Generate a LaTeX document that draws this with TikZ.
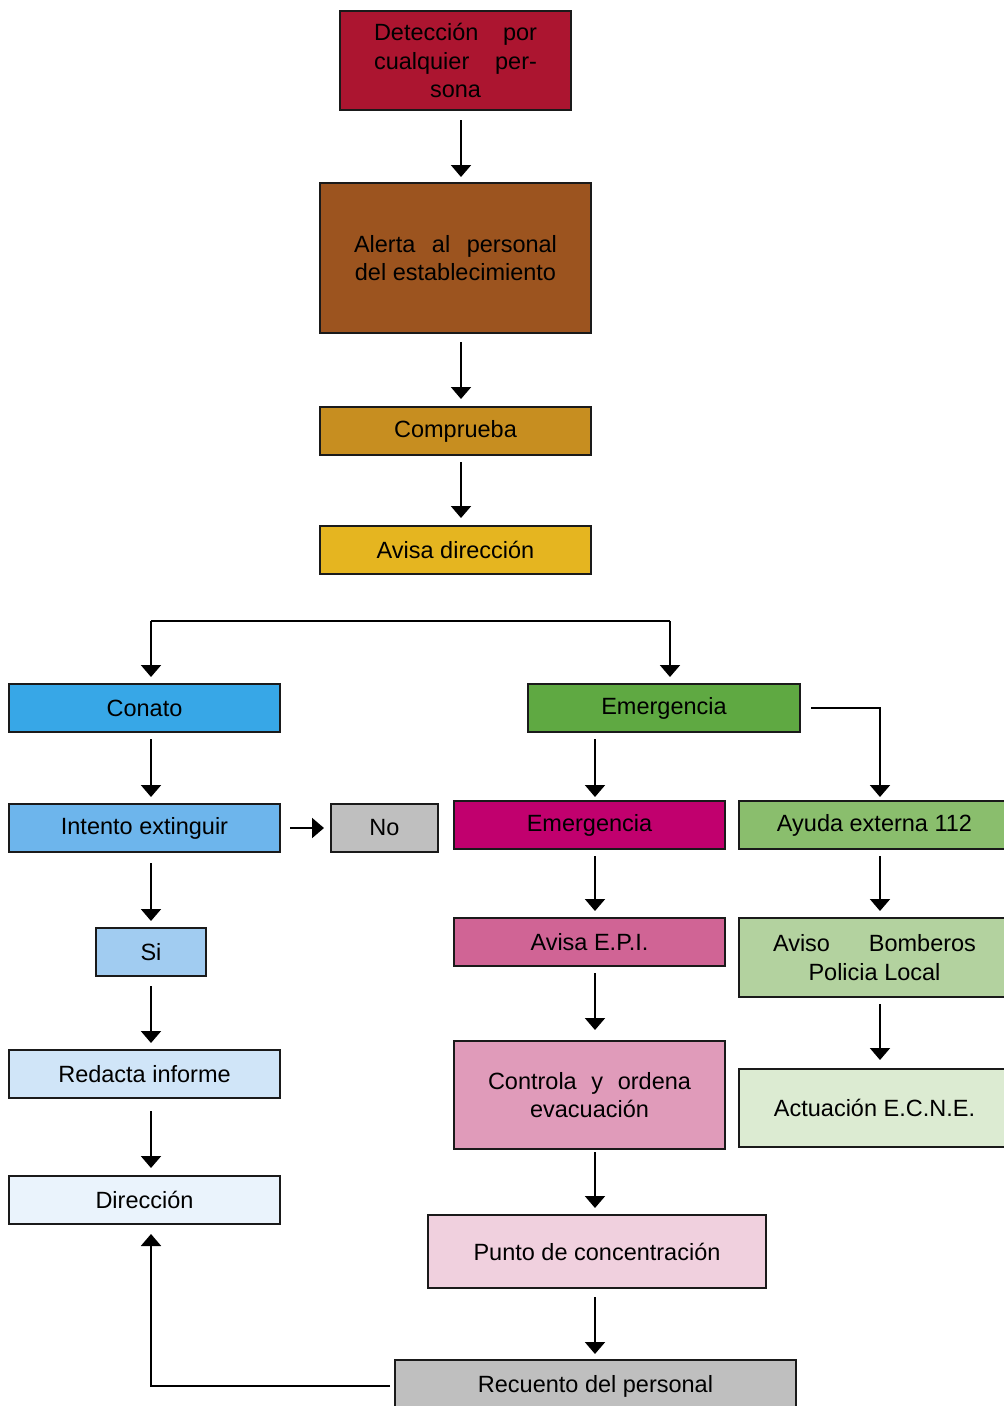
\documentclass[tikz,border=0pt]{standalone}
\usepackage{fontspec}
\setmainfont{Liberation Sans}
\usetikzlibrary{arrows.meta,calc}
\definecolor{cDet}{HTML}{AC1530}
\definecolor{cAle}{HTML}{9C541F}
\definecolor{cCom}{HTML}{C78E20}
\definecolor{cAvd}{HTML}{E5B520}
\definecolor{cCon}{HTML}{37A7E7}
\definecolor{cInt}{HTML}{6DB5EC}
\definecolor{cNo}{HTML}{BFBFBF}
\definecolor{cSi}{HTML}{A1CCF1}
\definecolor{cRed}{HTML}{D0E5F8}
\definecolor{cDir}{HTML}{EAF3FC}
\definecolor{cEmg}{HTML}{5FA942}
\definecolor{cEmm}{HTML}{C1006E}
\definecolor{cAyu}{HTML}{8ABE6D}
\definecolor{cEpi}{HTML}{D06495}
\definecolor{cBom}{HTML}{B3D29F}
\definecolor{cCtr}{HTML}{E09BBA}
\definecolor{cAct}{HTML}{DCEBD2}
\definecolor{cPun}{HTML}{F0D0DE}
\definecolor{cRec}{HTML}{BFBFBF}
\definecolor{cEdge}{HTML}{1A1A1A}
\begin{document}
\begin{tikzpicture}[x=1pt,y=-1pt,
  box/.style={draw=cEdge,line width=2.5pt,anchor=north west,inner sep=0pt,outer sep=0pt,align=center,
    font=\fontsize{23.5}{28.5}\selectfont},
  arr/.style={line width=2pt,-{Triangle[width=20pt,length=12pt]}},
  plain/.style={line width=2pt}]
\useasboundingbox (0,0) rectangle (1004,1406);
\clip (0,0) rectangle (1004,1406);
% top column
\node[box,fill=cDet,minimum width=231pt,minimum height=99pt] (det) at (340,11)
  {\makebox[163pt]{Detección\hfill por}\\\makebox[163pt]{cualquier\hfill per-}\\sona};
\node[box,fill=cAle,minimum width=271pt,minimum height=150pt] (ale) at (320,183)
  {\makebox[203pt]{Alerta\hfill al\hfill personal}\\del establecimiento};
\node[box,fill=cCom,minimum width=271pt,minimum height=48pt] (com) at (320,407) {Comprueba};
\node[box,fill=cAvd,minimum width=271pt,minimum height=48pt] (avd) at (320,526) {Avisa dirección};
% left column
\node[box,fill=cCon,minimum width=271pt,minimum height=48pt] (con) at (9,684) {Conato};
\node[box,fill=cInt,minimum width=271pt,minimum height=48pt] (int) at (9,804) {Intento extinguir};
\node[box,fill=cNo,minimum width=107pt,minimum height=48pt] (no) at (331,804) {No};
\node[box,fill=cSi,minimum width=110pt,minimum height=48pt] (si) at (96,928) {Si};
\node[box,fill=cRed,minimum width=271pt,minimum height=48pt] (red) at (9,1050) {Redacta informe};
\node[box,fill=cDir,minimum width=271pt,minimum height=48pt] (dir) at (9,1176) {Dirección};
% right part
\node[box,fill=cEmg,minimum width=272pt,minimum height=48pt] (emg) at (528,684) {Emergencia};
\node[box,fill=cEmm,minimum width=271pt,minimum height=48pt] (emm) at (454,801) {Emergencia};
\node[box,fill=cAyu,minimum width=271pt,minimum height=48pt] (ayu) at (739,801) {Ayuda externa 112};
\node[box,fill=cEpi,minimum width=271pt,minimum height=48pt] (epi) at (454,918) {Avisa E.P.I.};
\node[box,fill=cBom,minimum width=271pt,minimum height=79pt] (bom) at (739,918)
  {\makebox[203pt]{Aviso\hfill Bomberos}\\Policia Local};
\node[box,fill=cCtr,minimum width=271pt,minimum height=108pt] (ctr) at (454,1041)
  {\makebox[203pt]{Controla\hfill y\hfill ordena}\\evacuación};
\node[box,fill=cAct,minimum width=271pt,minimum height=78pt] (act) at (739,1069) {Actuación E.C.N.E.};
\node[box,fill=cPun,minimum width=338pt,minimum height=73pt] (pun) at (428,1215) {Punto de concentración};
\node[box,fill=cRec,minimum width=401pt,minimum height=52pt] (rec) at (395,1360) {Recuento del personal};
% vertical axes of the connectors
\coordinate (xA) at (461,0);
\coordinate (xL) at (151,0);
\coordinate (xM) at (595,0);
\coordinate (xR) at (880,0);
\coordinate (xE) at (670,0);
% connectors
\draw[arr] ($(det.south -| xA)+(0,10)$) -- ($(ale.north -| xA)+(0,-6)$);
\draw[arr] ($(ale.south -| xA)+(0,9)$) -- ($(com.north -| xA)+(0,-8)$);
\draw[arr] ($(com.south -| xA)+(0,7)$) -- ($(avd.north -| xA)+(0,-8)$);
\coordinate (bl) at (151,621);
\coordinate (brr) at (670,621);
\draw[plain] (bl) -- (brr);
\draw[arr] (bl) -- ($(con.north -| xL)+(0,-7)$);
\draw[arr] (brr) -- ($(emg.north -| xE)+(0,-7)$);
\draw[arr] ($(con.south -| xL)+(0,7)$) -- ($(int.north -| xL)+(0,-7)$);
\draw[arr] ([xshift=10]int.east) -- ([xshift=-7]no.west);
\draw[arr] ($(int.south -| xL)+(0,11)$) -- ($(si.north -| xL)+(0,-7)$);
\draw[arr] ($(si.south -| xL)+(0,10)$) -- ($(red.north -| xL)+(0,-7)$);
\draw[arr] ($(red.south -| xL)+(0,13)$) -- ($(dir.north -| xL)+(0,-8)$);
\draw[arr] ($(emg.south -| xM)+(0,7)$) -- ($(emm.north -| xM)+(0,-4)$);
\draw[arr] ([xshift=11]emg.east) -| ($(ayu.north -| xR)+(0,-4)$);
\draw[arr] ($(emm.south -| xM)+(0,7)$) -- ($(epi.north -| xM)+(0,-7)$);
\draw[arr] ($(ayu.south -| xR)+(0,7)$) -- ($(bom.north -| xR)+(0,-7)$);
\draw[arr] ($(epi.south -| xM)+(0,7)$) -- ($(ctr.north -| xM)+(0,-11)$);
\draw[arr] ($(bom.south -| xR)+(0,7)$) -- ($(act.north -| xR)+(0,-9)$);
\draw[arr] ($(ctr.south -| xM)+(0,3)$) -- ($(pun.north -| xM)+(0,-7)$);
\draw[arr] ($(pun.south -| xM)+(0,9)$) -- ($(rec.north -| xM)+(0,-6)$);
\draw[arr] ([xshift=-5]rec.west) -| ($(dir.south -| xL)+(0,10)$);
\end{tikzpicture}
\end{document}
